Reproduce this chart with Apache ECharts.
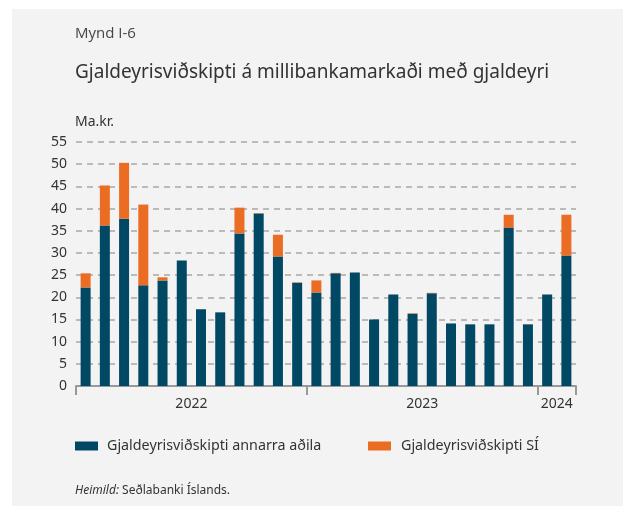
<!DOCTYPE html>
<html><head><meta charset="utf-8">
<script src="https://cdn.jsdelivr.net/npm/echarts@6/dist/echarts.min.js"></script>
<style>html,body{margin:0;padding:0;background:#fff;overflow:hidden}#c{width:623px;height:506px}</style>
</head><body><div id="c"></div>
<script>
const months = ['2022-01','2022-02','2022-03','2022-04','2022-05','2022-06','2022-07','2022-08','2022-09','2022-10','2022-11','2022-12',
  '2023-01','2023-02','2023-03','2023-04','2023-05','2023-06','2023-07','2023-08','2023-09','2023-10','2023-11','2023-12',
  '2024-01','2024-02'];
const otherParties = [22.2,36.2,37.7,22.7,23.8,28.3,17.3,16.6,34.4,38.9,29.2,23.3,21.1,25.4,25.6,15.0,20.6,16.3,20.9,14.1,13.9,13.9,35.7,13.9,20.6,29.4];
const centralBank = [3.2,9.0,12.6,18.2,0.7,0,0,0,5.8,0.1,4.9,0.1,2.7,0.1,0,0,0,0.1,0.1,0,0,0,2.9,0,0,9.2];
const yearLabels = ['2022','2023','2024'];
const yearLabelPos = [6,18,25];
const yearTickPos = [0,12,24,26];
const seriesNames = ['Gjaldeyrisviðskipti annarra aðila','Gjaldeyrisviðskipti SÍ'];

const FONT = 'Noto Sans';
const chart = echarts.init(document.getElementById('c'), null, {renderer:'canvas'});
chart.setOption({
  animation:false,
  backgroundColor:'#ffffff',
  graphic:[
    {type:'rect', shape:{x:12,y:9,width:611,height:497}, style:{fill:'#f3f3f3'}, z:-10},
    {type:'text', left:75, top:485, style:{
      text:'{i|Heimild:} Seðlabanki Íslands.',
      rich:{i:{fontStyle:'italic',fontFamily:FONT,fontSize:12,fill:'#333'}},
      fontFamily:FONT, fontSize:12, fill:'#333'}}
  ],
  title:[
    {text:'Mynd I-6', left:70, top:21, textStyle:{fontFamily:'Open Sans',fontSize:15,fontWeight:'normal',color:'#444'}},
    {text:'Gjaldeyrisviðskipti á millibankamarkaði með gjaldeyri', left:70, top:58, textStyle:{fontFamily:FONT,fontSize:19,fontWeight:'normal',color:'#333'}},
    {text:'Ma.kr.', left:70, top:110, textStyle:{fontFamily:FONT,fontSize:14,fontWeight:'normal',color:'#333'}}
  ],
  legend:[
    {data:[seriesNames[0]], left:70, top:434, itemWidth:23, itemHeight:9, icon:'rect', itemGap:10,
     textStyle:{fontFamily:FONT,fontSize:14.3,color:'#333',padding:[0,0,0,4]}},
    {data:[seriesNames[1]], left:363, top:434, itemWidth:23, itemHeight:9, icon:'rect', itemGap:10,
     textStyle:{fontFamily:FONT,fontSize:14.3,color:'#333',padding:[0,0,0,5]}}
  ],
  grid:{left:76, right:47, top:142, bottom:120, containLabel:false},
  xAxis:[
    {type:'category', data:months, boundaryGap:true,
     axisLine:{lineStyle:{color:'#999',width:2}}, axisTick:{show:false}, axisLabel:{show:false}},
    {type:'value', min:0, max:26, position:'bottom', gridIndex:0,
     axisLine:{show:false}, splitLine:{show:false},
     axisTick:{show:true, customValues:yearTickPos, length:9, lineStyle:{color:'#999',width:2}},
     axisLabel:{show:true, customValues:yearLabelPos, margin:11, fontFamily:FONT, fontSize:14, color:'#333',
       formatter:function(v){const i=yearLabelPos.indexOf(Math.round(v));return i>=0?yearLabels[i]:'';}}}
  ],
  yAxis:{type:'value', min:0, max:55, interval:5,
    axisLine:{show:false}, axisTick:{show:false},
    axisLabel:{fontFamily:FONT,fontSize:14,color:'#333',margin:9},
    splitLine:{lineStyle:{color:'#a8a8a8',type:[6,5],width:1.5}}},
  series:[
    {name:seriesNames[0], type:'bar', stack:'a', data:otherParties, barWidth:10, itemStyle:{color:'#004863'}, xAxisIndex:0},
    {name:seriesNames[1], type:'bar', stack:'a', data:centralBank, barWidth:10, itemStyle:{color:'#ea6d23'}, xAxisIndex:0}
  ]
});
</script></body></html>
